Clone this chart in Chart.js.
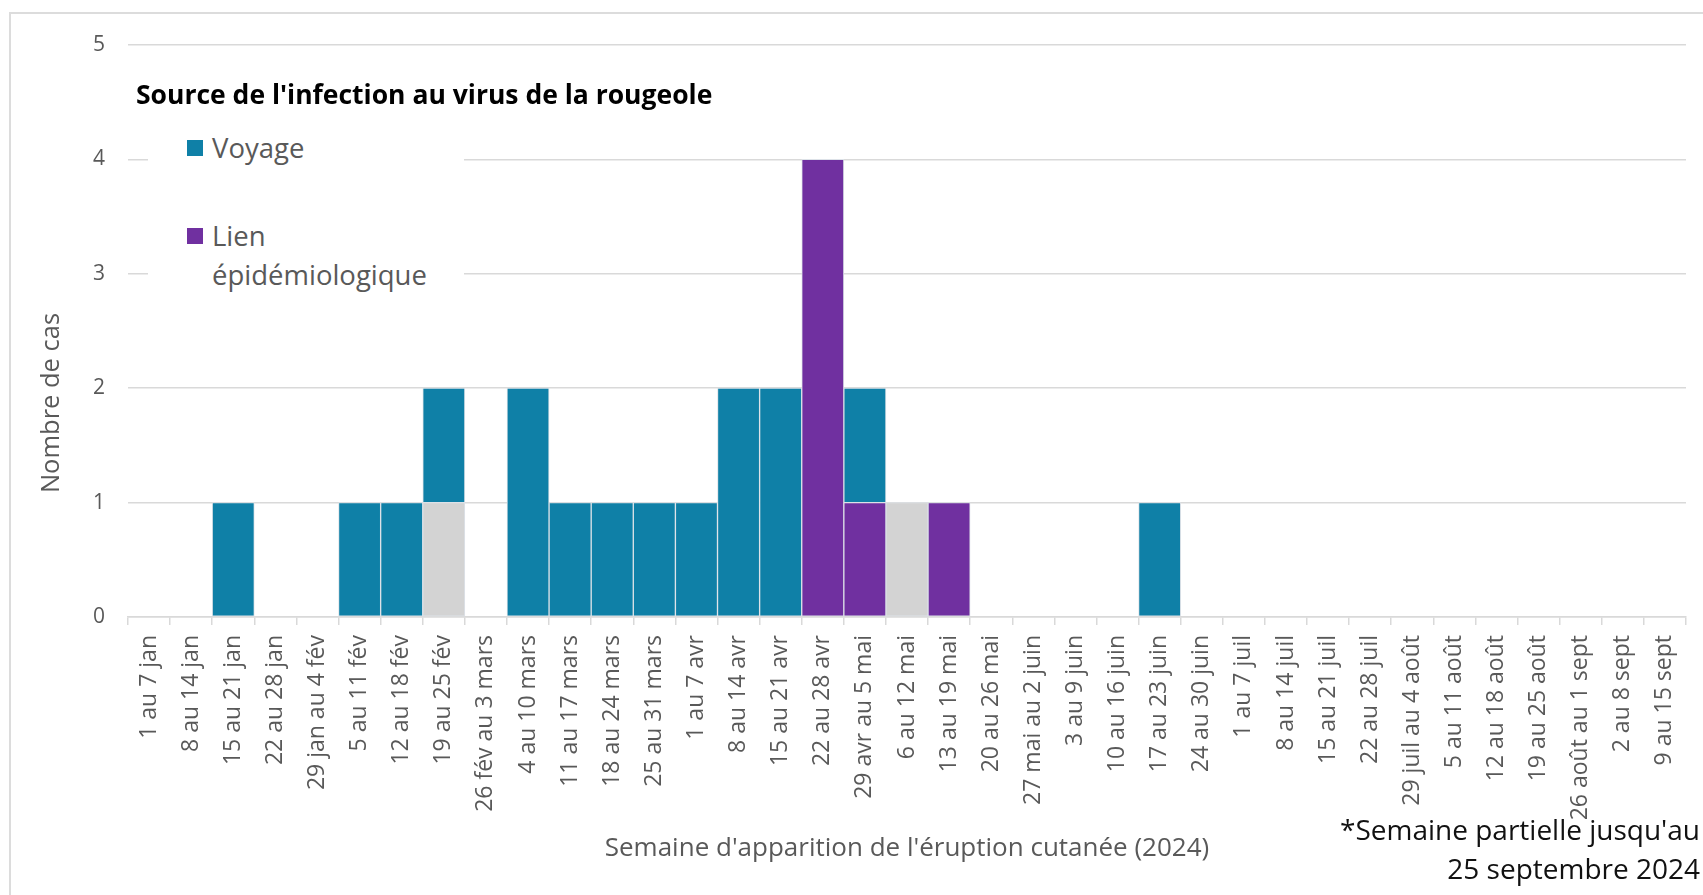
<!DOCTYPE html>
<html>
<head>
<meta charset="utf-8">
<script src="https://cdn.jsdelivr.net/npm/chart.js@4/dist/chart.umd.min.js"></script>
<style>
html,body{margin:0;padding:0;background:#fff;overflow:hidden;}
#wrap{position:relative;width:1703px;height:895px;overflow:hidden;}
#frame{position:absolute;left:9px;top:12px;width:1800px;height:1000px;border:2px solid #dcdcdc;box-sizing:border-box;}
canvas{position:absolute;left:0;top:0;}
#title{position:absolute;left:136px;top:77px;font-family:'Open Sans';font-weight:bold;font-size:26.5px;line-height:34px;color:#000;white-space:nowrap;}
#legendBox{position:absolute;left:148px;top:118px;width:316px;height:182px;background:#fff;}
.lg-item{position:absolute;font-family:'Open Sans';font-size:27.5px;line-height:39px;color:#595959;white-space:nowrap;}
.lg-sw{position:absolute;width:16px;height:16px;}
#note{position:absolute;right:3px;top:810px;font-family:'Open Sans';font-size:28px;line-height:39px;color:#111;text-align:right;white-space:nowrap;}
</style>
</head>
<body>
<div id="wrap">
  <div id="frame"></div>
  <canvas id="c" width="1703" height="895"></canvas>
  <div id="title"></div>
  <div id="legendBox"></div>
  <div id="note"></div>
</div>
<script>
const categories = [
  "1 au 7 jan","8 au 14 jan","15 au 21 jan","22 au 28 jan","29 jan au 4 fév",
  "5 au 11 fév","12 au 18 fév","19 au 25 fév","26 fév au 3 mars","4 au 10 mars",
  "11 au 17 mars","18 au 24 mars","25 au 31 mars","1 au 7 avr","8 au 14 avr",
  "15 au 21 avr","22 au 28 avr","29 avr au 5 mai","6 au 12 mai","13 au 19 mai",
  "20 au 26 mai","27 mai au 2 juin","3 au 9 juin","10 au 16 juin","17 au 23 juin",
  "24 au 30 juin","1 au 7 juil","8 au 14 juil","15 au 21 juil","22 au 28 juil",
  "29 juil au 4 août","5 au 11 août","12 au 18 août","19 au 25 août","26 août au 1 sept",
  "2 au 8 sept","9 au 15 sept"
];
const voyage = [0,0,1,0,0,1,1,1,0,2,1,1,1,1,2,2,0,1,0,0,0,0,0,0,1,0,0,0,0,0,0,0,0,0,0,0,0];
const lienEpidemiologique = [0,0,0,0,0,0,0,0,0,0,0,0,0,0,0,0,4,1,0,1,0,0,0,0,0,0,0,0,0,0,0,0,0,0,0,0,0];
const autre = [0,0,0,0,0,0,0,1,0,0,0,0,0,0,0,0,0,0,1,0,0,0,0,0,0,0,0,0,0,0,0,0,0,0,0,0,0];
const yTickValues = [0,1,2,3,4,5];

const chartTitle = "Source de l'infection au virus de la rougeole";
const xTitle = "Semaine d'apparition de l'éruption cutanée (2024)";
const yTitle = "Nombre de cas";
const noteLines = ["*Semaine partielle jusqu'au", "25 septembre 2024"];
const legendLabels = ["Voyage", "Lien épidémiologique"];
const legendLines = [["Voyage"], ["Lien", "épidémiologique"]];

const COL_VOYAGE = '#0F80A7';
const COL_LIEN = '#7030A0';
const COL_AUTRE = '#D3D3D3';

document.getElementById('title').textContent = chartTitle;
document.getElementById('note').innerHTML = noteLines.join('<br>');

// Legend (HTML), white box covering gridlines
const lb = document.getElementById('legendBox');
const legendColors = [COL_VOYAGE, COL_LIEN];
const legendTops = [9.5, 97.5];
legendLabels.forEach((lab, i) => {
  const sw = document.createElement('div');
  sw.className = 'lg-sw';
  sw.style.left = '39px';
  sw.style.top = (legendTops[i] + 12) + 'px';
  sw.style.background = legendColors[i];
  lb.appendChild(sw);
  const t = document.createElement('div');
  t.className = 'lg-item';
  t.style.left = '64px';
  t.style.top = legendTops[i] + 'px';
  t.innerHTML = legendLines[i].join('<br>');
  t.title = lab;
  lb.appendChild(t);
});

const nz = arr => arr.map(v => v === 0 ? null : v);

// Y-axis title drawn on canvas at its reference position
const yTitlePlugin = {
  id: 'yTitlePlugin',
  afterDraw(chart) {
    const ctx = chart.ctx;
    ctx.save();
    ctx.translate(52, 403);
    ctx.rotate(-Math.PI / 2);
    ctx.font = "25.5px 'Open Sans'";
    ctx.fillStyle = '#595959';
    ctx.textAlign = 'center';
    ctx.textBaseline = 'middle';
    ctx.fillText(yTitle, 0, 0);
    ctx.restore();
  }
};

new Chart(document.getElementById('c'), {
  type: 'bar',
  data: {
    labels: categories,
    datasets: [
      { label: 'Lien épidémiologique', data: nz(lienEpidemiologique), backgroundColor: COL_LIEN },
      { label: 'Autre', data: nz(autre), backgroundColor: COL_AUTRE },
      { label: 'Voyage', data: nz(voyage), backgroundColor: COL_VOYAGE }
    ]
  },
  plugins: [yTitlePlugin],
  options: {
    responsive: false,
    animation: false,
    layout: { padding: { top: 45, right: 17, bottom: 0, left: 0 } },
    plugins: { legend: { display: false }, tooltip: { enabled: false } },
    datasets: {
      bar: {
        barPercentage: 1, categoryPercentage: 1,
        borderWidth: 1, borderColor: '#dde2e8', borderSkipped: false
      }
    },
    scales: {
      x: {
        stacked: true,
        grid: { display: true, drawOnChartArea: false, drawTicks: true, tickLength: 8, offset: true, color: '#d9d9d9', lineWidth: 1.5 },
        border: { display: true, color: '#d9d9d9', width: 1.5 },
        ticks: {
          autoSkip: false, minRotation: 90, maxRotation: 90, padding: 10,
          color: '#595959', font: { family: 'Open Sans', size: 23 }
        },
        title: {
          display: true, text: xTitle, color: '#595959',
          font: { family: 'Open Sans', size: 26 }, padding: { top: 0, bottom: 31 }
        },
        afterFit(s) { s.height = 278; }
      },
      y: {
        stacked: true, min: 0, max: 5,
        afterBuildTicks(s) { s.ticks = yTickValues.map(v => ({ value: v })); },
        ticks: { padding: 23, color: '#595959', font: { family: 'Open Sans', size: 21 } },
        grid: { color: '#d9d9d9', lineWidth: 1.5, drawTicks: false },
        border: { display: false },
        title: { display: false },
        afterFit(s) { s.width = 128; }
      }
    }
  }
});
</script>
</body>
</html>
